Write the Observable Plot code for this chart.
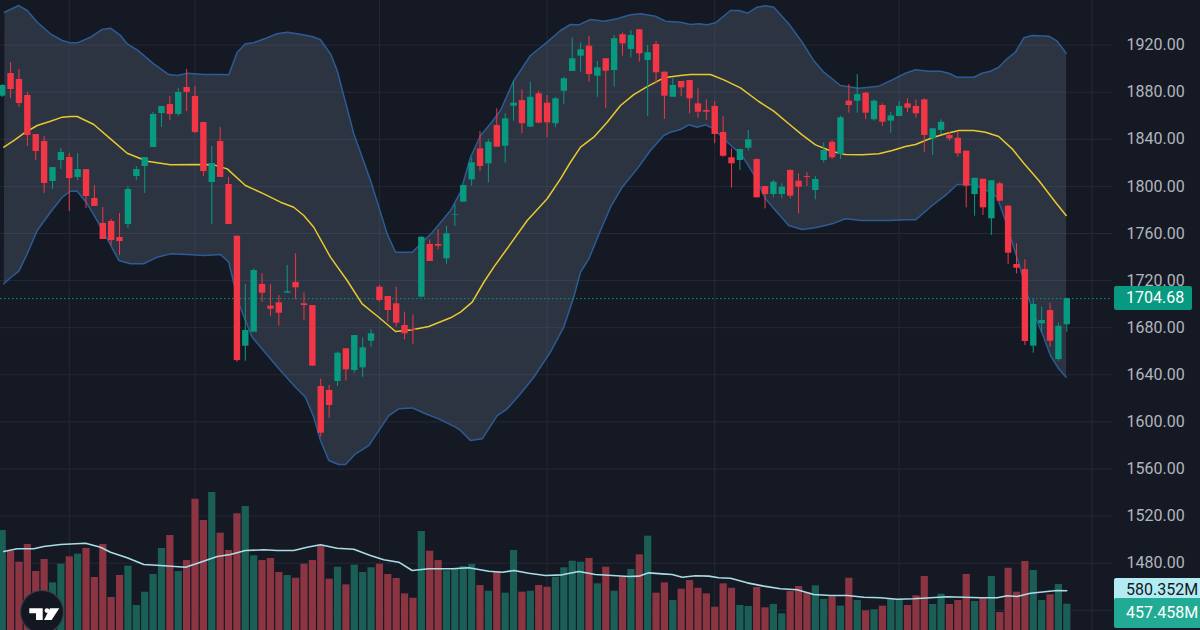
<!DOCTYPE html>
<html><head><meta charset="utf-8">
<script src="https://cdn.jsdelivr.net/npm/d3@7"></script>
<script src="https://cdn.jsdelivr.net/npm/@observablehq/plot@0.6"></script>
<style>
html,body{margin:0;padding:0;background:#151924;}
#chart{position:relative;width:1200px;height:630px;overflow:hidden;background:#151924;font-family:Roboto,"Noto Sans",sans-serif;}
#chart > svg{position:absolute;left:0;top:0;}
.tag{position:absolute;left:1114px;padding-left:12px;font-size:16px;box-sizing:border-box;border-radius:2px;white-space:nowrap;}
</style></head><body><div id="chart"></div><script>
// ---- data ----
const openP = [1876.6,1895.9,1890.8,1877.2,1844.1,1838.1,1804.2,1822.0,1824.5,1807.6,
1814.3,1789.7,1768.5,1770.2,1756.6,1767.6,1808.4,1816.9,1833.0,1861.9,
1869.5,1861.1,1884.0,1876.4,1854.3,1803.3,1838.1,1801.6,1757.7,1664.3,
1676.2,1716.7,1698.3,1701.1,1709.3,1718.4,1700.3,1698.8,1630.1,1626.7,
1634.3,1662.1,1643.6,1645.9,1668.5,1714.4,1706.5,1700.3,1681.9,1678.5,
1705.9,1750.7,1750.7,1738.5,1775.3,1786.6,1805.6,1831.9,1819.2,1851.7,
1834.1,1868.1,1872.9,1850.3,1878.6,1870.7,1853.2,1880.8,1897.6,1910.6,
1919.1,1893.6,1908.4,1898.4,1928.8,1916.3,1933.0,1906.9,1920.5,1897.0,
1875.7,1889.1,1889.9,1870.1,1864.5,1867.9,1845.8,1824.3,1822.0,1832.4,
1822.8,1799.9,1793.1,1793.1,1813.5,1804.4,1808.4,1796.5,1822.0,1837.5,
1827.1,1872.4,1872.4,1879.2,1856.6,1868.7,1855.4,1859.4,1870.1,1867.9,
1873.5,1840.4,1847.5,1843.2,1840.9,1829.9,1793.1,1806.1,1772.5,1802.2,
1783.2,1733.7,1729.4,1664.3,1683.3,1694.6,1652.9,1682.5];
const highP = [1886.5,1905.2,1899.3,1879.8,1844.1,1842.4,1816.0,1832.2,1827.9,1827.9,
1814.3,1800.8,1782.1,1771.9,1777.0,1799.9,1816.9,1824.5,1862.8,1867.9,
1876.4,1883.1,1899.3,1884.8,1854.3,1833.9,1850.0,1807.6,1757.7,1716.7,
1730.0,1725.8,1716.7,1707.3,1732.8,1742.8,1709.6,1698.8,1636.3,1630.9,
1659.2,1662.1,1673.4,1671.4,1678.2,1715.8,1706.5,1714.4,1693.2,1690.9,
1757.4,1754.6,1763.4,1765.9,1784.6,1800.8,1824.3,1846.6,1839.6,1865.9,
1861.6,1889.1,1882.0,1888.5,1880.8,1877.2,1875.7,1892.7,1925.9,1921.9,
1927.3,1906.3,1908.4,1928.2,1930.4,1932.4,1933.0,1919.7,1923.1,1897.0,
1891.4,1889.1,1889.9,1882.9,1873.5,1872.1,1859.4,1831.9,1831.3,1847.5,
1823.4,1799.9,1805.0,1802.2,1814.1,1810.7,1811.8,1808.4,1837.0,1839.0,
1859.6,1886.5,1895.0,1880.0,1873.5,1870.1,1863.0,1872.1,1874.4,1873.5,
1874.4,1848.9,1856.6,1846.0,1846.0,1829.9,1806.9,1806.1,1804.8,1803.6,
1783.8,1751.2,1737.7,1703.7,1697.4,1701.1,1684.1,1705.2];
const lowP = [1875.5,1874.6,1867.0,1833.9,1822.0,1794.0,1797.4,1814.3,1778.7,1805.0,
1781.2,1782.9,1754.9,1749.8,1741.3,1764.2,1805.0,1794.0,1833.0,1850.0,
1856.0,1859.4,1863.6,1844.9,1808.4,1767.6,1807.6,1767.6,1650.7,1651.5,
1676.2,1701.6,1689.8,1681.3,1709.3,1703.7,1686.1,1647.3,1587.0,1603.1,
1630.1,1634.6,1641.3,1637.9,1663.4,1701.6,1684.7,1680.4,1669.7,1665.7,
1705.9,1736.2,1746.2,1733.7,1765.9,1786.6,1800.2,1812.6,1803.0,1833.3,
1819.7,1855.4,1844.7,1849.8,1853.2,1841.3,1849.8,1869.5,1897.6,1897.0,
1888.5,1875.7,1865.9,1884.3,1910.6,1909.2,1905.5,1859.4,1887.1,1856.8,
1875.7,1876.3,1861.6,1857.9,1855.9,1836.2,1824.8,1798.5,1813.5,1829.9,
1790.3,1780.9,1790.3,1789.5,1789.5,1776.7,1799.9,1788.6,1820.0,1822.8,
1822.8,1862.2,1862.2,1856.8,1855.4,1851.1,1845.2,1859.4,1862.5,1857.9,
1829.0,1826.2,1844.1,1838.4,1824.8,1781.8,1774.7,1775.3,1758.3,1787.4,
1733.7,1725.8,1664.9,1658.3,1676.2,1663.4,1651.5,1676.2];
const closeP = [1885.7,1882.3,1870.4,1843.2,1829.6,1802.5,1816.0,1828.8,1806.7,1814.3,
1791.4,1782.9,1754.9,1754.0,1753.2,1797.4,1814.3,1824.5,1861.1,1867.9,
1861.1,1879.8,1879.8,1845.8,1812.6,1819.4,1807.6,1767.6,1652.1,1677.6,
1728.6,1709.3,1695.7,1692.3,1710.5,1713.9,1698.8,1647.3,1590.4,1613.9,
1658.3,1644.2,1673.4,1662.9,1674.8,1703.1,1694.6,1683.8,1674.8,1677.6,
1756.8,1736.2,1749.2,1759.7,1775.9,1800.8,1820.0,1816.9,1837.5,1833.3,
1857.4,1870.7,1853.2,1875.7,1853.7,1854.0,1874.4,1891.4,1908.4,1916.0,
1895.0,1900.7,1897.8,1925.4,1921.1,1928.2,1912.6,1913.5,1896.5,1876.6,
1885.7,1883.7,1874.4,1863.0,1863.0,1844.1,1825.6,1819.2,1831.3,1839.6,
1790.3,1793.1,1803.6,1799.3,1791.7,1799.3,1807.6,1805.9,1830.5,1824.3,
1858.3,1868.7,1878.0,1862.2,1872.4,1854.5,1859.9,1867.9,1866.4,1861.6,
1843.2,1848.9,1854.5,1840.4,1827.7,1800.2,1806.9,1781.8,1804.8,1787.4,
1743.3,1730.5,1668.3,1699.7,1686.1,1668.5,1681.2,1704.68];
// volume, millions
const volumeM = [1128,937,840,1001,755,865,652,822,889,913,
965,701,1001,519,719,804,446,567,728,965,
1083,755,855,1413,1219,1474,1104,946,1280,1347,
898,855,874,746,719,694,822,855,992,685,
794,634,813,746,789,822,728,692,552,512,
1119,940,855,762,780,801,819,628,576,755,
558,946,567,576,628,612,703,789,849,840,
874,643,794,576,703,774,907,1077,558,652,
491,594,673,603,552,430,643,603,446,437,
610,425,455,370,573,619,558,625,501,525,
440,694,491,398,407,440,501,501,446,534,
710,455,549,455,491,728,482,507,710,382,
785,567,846,764,491,543,637,457.458];
// Bollinger bands, read as [bar index, price]
const bbUpper = [[0.27,1947.9],[1.98,1953.6],[2.98,1949.4],[4.18,1939.4],[5.76,1929.6],[7.16,1923.9],[8.15,1921.9],[8.95,1921.9],[10.53,1926.7],[11.93,1933.3],[12.92,1934.4],[14.11,1928.2],[14.91,1921.1],[16.10,1916.0],[18.08,1904.1],[19.87,1895.0],[20.88,1894.2],[22.07,1896.1],[24.05,1895.0],[26.04,1895.0],[27.03,1894.8],[28.03,1914.0],[29.02,1921.1],[30.01,1922.0],[31.61,1926.2],[32.80,1929.6],[34.00,1931.0],[35.19,1929.6],[36.98,1927.3],[37.97,1924.5],[39.16,1912.6],[39.96,1898.4],[41.94,1844.7],[43.94,1805.0],[45.93,1759.7],[46.92,1744.1],[48.91,1744.1],[51.29,1760.8],[53.48,1779.5],[54.67,1795.1],[55.86,1824.8],[57.06,1843.2],[58.25,1853.2],[59.44,1864.5],[61.03,1889.9],[63.02,1911.2],[65.01,1922.5],[66.60,1932.4],[67.79,1937.5],[68.78,1937.2],[70.18,1941.7],[71.76,1940.3],[73.36,1942.3],[74.95,1945.7],[76.14,1946.6],[77.93,1944.5],[79.12,1940.3],[80.91,1939.4],[82.10,1937.5],[83.10,1938.1],[84.10,1937.2],[85.09,1938.9],[86.88,1949.4],[87.87,1949.4],[88.94,1947.1],[90.06,1952.2],[91.05,1953.4],[92.04,1952.2],[93.83,1938.1],[95.43,1922.5],[96.81,1906.9],[98.01,1897.0],[100.00,1885.7],[102.18,1883.4],[104.57,1885.1],[106.17,1890.5],[107.75,1896.1],[108.95,1899.0],[110.53,1897.8],[111.93,1897.8],[112.92,1896.1],[113.92,1892.7],[115.90,1892.7],[116.90,1896.1],[117.89,1897.8],[118.88,1901.2],[119.88,1908.4],[120.87,1914.0],[121.87,1926.2],[122.87,1928.2],[124.85,1927.6],[125.85,1923.3],[126.92,1913.1]];
const bbBasis = [[0.19,1833.3],[1.38,1838.9],[2.78,1846.0],[4.18,1851.7],[5.76,1855.4],[7.16,1858.8],[8.15,1859.4],[8.95,1859.4],[10.93,1852.6],[12.92,1840.4],[14.91,1828.2],[17.30,1821.4],[20.08,1818.3],[22.86,1818.6],[25.24,1818.3],[26.84,1814.9],[29.02,1800.8],[31.21,1793.7],[33.20,1786.6],[34.78,1782.3],[35.98,1775.3],[37.17,1765.3],[39.16,1739.9],[41.15,1720.1],[42.94,1700.3],[44.92,1688.9],[46.92,1676.8],[48.91,1678.2],[50.89,1681.0],[53.48,1688.4],[54.67,1693.2],[56.07,1701.7],[57.45,1718.6],[58.64,1731.4],[60.64,1751.2],[62.63,1771.0],[65.01,1789.5],[66.60,1806.4],[67.79,1820.5],[68.99,1833.3],[70.57,1841.8],[72.17,1854.5],[73.76,1868.7],[75.34,1878.0],[76.94,1884.8],[78.92,1892.2],[80.91,1894.2],[82.10,1895.0],[84.49,1895.0],[86.08,1890.5],[88.07,1883.7],[90.25,1872.1],[92.04,1863.9],[93.83,1853.2],[95.43,1843.8],[97.02,1835.3],[99.01,1829.6],[100.60,1827.1],[102.59,1826.8],[104.57,1827.7],[106.17,1830.5],[107.75,1833.9],[108.95,1835.6],[110.94,1841.3],[112.52,1844.7],[114.11,1847.5],[115.90,1847.5],[117.30,1846.0],[118.88,1842.4],[120.48,1831.9],[121.87,1819.7],[123.66,1805.0],[125.65,1786.6],[126.92,1775.3]];
const bbLower = [[0.19,1717.3],[0.99,1722.4],[1.98,1728.0],[2.98,1742.7],[4.18,1762.5],[5.76,1778.1],[7.16,1790.8],[8.15,1795.9],[8.95,1795.9],[10.14,1785.2],[11.33,1771.0],[12.53,1755.5],[13.91,1737.1],[15.30,1734.3],[16.89,1734.3],[18.49,1739.9],[20.08,1742.7],[22.07,1742.2],[24.05,1741.3],[26.04,1742.2],[27.03,1735.6],[28.22,1700.3],[29.82,1671.9],[33.00,1645.1],[34.99,1629.5],[36.18,1621.0],[37.17,1604.0],[37.97,1584.2],[38.96,1567.2],[40.15,1563.8],[40.95,1563.8],[42.15,1572.9],[43.73,1579.9],[46.12,1605.4],[47.31,1611.1],[48.91,1611.9],[50.50,1606.9],[52.08,1602.6],[54.07,1595.5],[54.67,1592.7],[55.86,1584.2],[57.26,1585.6],[59.05,1605.4],[60.24,1611.1],[61.83,1623.9],[63.41,1637.9],[65.40,1659.2],[66.99,1680.4],[68.18,1705.9],[68.98,1727.1],[69.98,1738.5],[71.37,1762.5],[72.56,1782.3],[73.96,1799.3],[75.75,1814.9],[77.33,1830.5],[78.92,1843.2],[79.72,1846.0],[80.91,1848.3],[81.90,1852.3],[82.90,1850.3],[83.90,1852.3],[84.89,1848.9],[86.28,1839.0],[88.27,1826.2],[89.86,1807.8],[91.05,1789.5],[92.25,1779.5],[93.83,1766.8],[95.43,1763.4],[97.02,1764.8],[99.01,1768.2],[100.60,1772.5],[102.59,1771.0],[105.76,1771.0],[107.75,1771.6],[108.95,1771.6],[110.94,1783.8],[112.52,1792.3],[113.92,1801.6],[115.90,1801.6],[117.50,1796.5],[118.69,1790.8],[119.68,1771.0],[120.67,1748.4],[121.47,1730.0],[122.27,1708.8],[123.26,1688.9],[124.25,1671.9],[125.05,1656.4],[126.04,1645.1],[126.92,1638.0]];
// volume moving average, [bar index, millions]
const volMA = [[0.19,937],[1.79,962],[3.77,962],[4.96,983],[6.95,1001],[9.94,1013],[11.73,976],[12.92,931],[14.91,880],[16.89,819],[18.88,810],[21.87,794],[23.66,840],[25.65,892],[27.23,910],[29.02,946],[31.21,953],[32.80,946],[34.78,946],[36.38,976],[37.97,998],[39.96,967],[41.94,958],[43.93,901],[45.52,862],[47.31,840],[48.91,764],[50.89,780],[53.68,780],[55.66,789],[58.05,758],[59.64,749],[61.03,764],[62.82,740],[64.81,719],[66.80,725],[68.78,755],[70.77,728],[72.77,719],[74.75,710],[75.94,713],[77.13,743],[78.73,734],[79.92,728],[81.12,703],[82.70,716],[84.29,713],[85.48,698],[86.88,694],[88.87,652],[90.85,622],[92.84,598],[94.83,589],[96.81,546],[98.81,537],[100.80,537],[102.78,521],[104.77,516],[106.76,503],[108.74,507],[110.73,516],[112.73,525],[114.71,521],[116.70,516],[118.69,516],[119.88,534],[121.08,528],[122.66,558],[124.65,573],[125.85,582],[127,580.352]];
const priceTicks = [1480,1520,1560,1600,1640,1680,1720,1760,1800,1840,1880,1920];
const gridPrices = [1440,1480,1520,1560,1600,1640,1680,1720,1760,1800,1840,1880,1920];
const timeGrid = [8,23,45,65,85,107,130];

// ---- build ----
const RED = "#f23645", GREEN = "#089981";
const candles = openP.map((o,i)=>({i, open:o, high:highP[i], low:lowP[i], close:closeP[i], volume:volumeM[i]}));
const isUp = d => d.close >= d.open;
const bandPolygon = bbUpper.concat(bbLower.slice().reverse());
const xOpt = {type:"linear", domain:[0,127], range:[1.7,1066.3], axis:null};
const gridColor = "#252935";

const pricePlot = Plot.plot({
  width:1200, height:630, marginTop:0, marginBottom:0, marginLeft:0, marginRight:88,
  style:{background:"transparent", fontFamily:"Roboto", fontSize:"16px"},
  x: xOpt,
  y: {domain:[1480,1920], range:[562.7,44.6], axis:null},
  color: {type:"identity"},
  marks: [
    Plot.ruleY(gridPrices, {stroke:gridColor, strokeWidth:1}),
    Plot.ruleX(timeGrid, {stroke:gridColor, strokeWidth:1}),
    Plot.line(bandPolygon, {x:d=>d[0], y:d=>d[1], fill:"#8a9bb8", fillOpacity:0.2, stroke:"none", curve:"linear"}),
    Plot.line(bbUpper, {x:d=>d[0], y:d=>d[1], stroke:"#2b5c96", strokeWidth:1.5}),
    Plot.line(bbLower, {x:d=>d[0], y:d=>d[1], stroke:"#2b5c96", strokeWidth:1.5}),
    Plot.line(bbBasis, {x:d=>d[0], y:d=>d[1], stroke:"#e9c92e", strokeWidth:1.5}),
    Plot.ruleY([closeP[closeP.length-1]], {stroke:GREEN, strokeWidth:1, strokeDasharray:"1.5,2.5"}),
    Plot.ruleX(candles, {x:"i", y1:"low", y2:"high", stroke:d=>isUp(d)?GREEN:RED, strokeWidth:1}),
    Plot.ruleX(candles, {x:"i", y1:"open", y2:"close", stroke:d=>isUp(d)?GREEN:RED, strokeWidth:6.4, strokeLinecap:"butt"}),
    Plot.axisY(priceTicks, {anchor:"right", tickSize:0, tickPadding:14, tickFormat:d3.format(".2f"), color:"#b2b5be", fontSize:16})
  ]
});

const volPlot = Plot.plot({
  width:1200, height:630, marginTop:0, marginBottom:0, marginLeft:0, marginRight:88,
  style:{background:"transparent"},
  x: xOpt,
  y: {domain:[0,1000], range:[654, 654 - 1000/9.1], axis:null},
  color: {type:"identity"},
  marks: [
    Plot.ruleX(candles, {x:"i", y1:0, y2:"volume", stroke:d=>isUp(d)?"#1b5e55":"#8b3442", strokeWidth:7.2, strokeLinecap:"butt"}),
    Plot.line(volMA, {x:d=>d[0], y:d=>d[1], stroke:"#a9dde6", strokeWidth:1.6})
  ]
});

const chart = document.getElementById("chart");
chart.appendChild(pricePlot);
chart.appendChild(volPlot);

// value tags on the scale
const yP = pricePlot.scale("y"), yV = volPlot.scale("y");
function tag(text, center, h, bg, fg, w){
  const d = document.createElement("div");
  d.className = "tag";
  d.textContent = text;
  d.style.top = (center - h/2) + "px";
  d.style.height = h + "px";
  d.style.lineHeight = h + "px";
  d.style.width = w + "px";
  d.style.background = bg;
  d.style.color = fg;
  chart.appendChild(d);
}
const lastClose = closeP[closeP.length-1];
const lastVol = volumeM[volumeM.length-1];
const lastMA = volMA[volMA.length-1][1];
tag(d3.format(".2f")(lastClose), yP.apply(lastClose), 24.5, GREEN, "#ffffff", 78);
const cMA = yV.apply(lastMA);
tag(d3.format(".3f")(lastMA) + "M", cMA, 24, "#b2ebf2", "#131722", 90);
const cVol = Math.max(yV.apply(lastVol), cMA + 22.6);
tag(d3.format(".3f")(lastVol) + "M", cVol, 30, "#22ab94", "#ffffff", 90);

// TradingView-style badge
const ns = "http://www.w3.org/2000/svg";
const logo = document.createElementNS(ns, "svg");
logo.setAttribute("width", 46); logo.setAttribute("height", 46);
logo.style.left = "19px"; logo.style.top = "589px";
logo.innerHTML = '<circle cx="23" cy="23" r="21.5" fill="#131722" stroke="#3a3e49" stroke-width="1.2"/>' +
  '<path d="M10.3 19.3H23.7V31H17V24.3H10.3Z" fill="#fff"/>' +
  '<circle cx="28" cy="21.6" r="2.4" fill="#fff"/>' +
  '<path d="M31 19.3H40.3L32.6 31H25Z" fill="#fff"/>';
chart.appendChild(logo);
</script></body></html>
